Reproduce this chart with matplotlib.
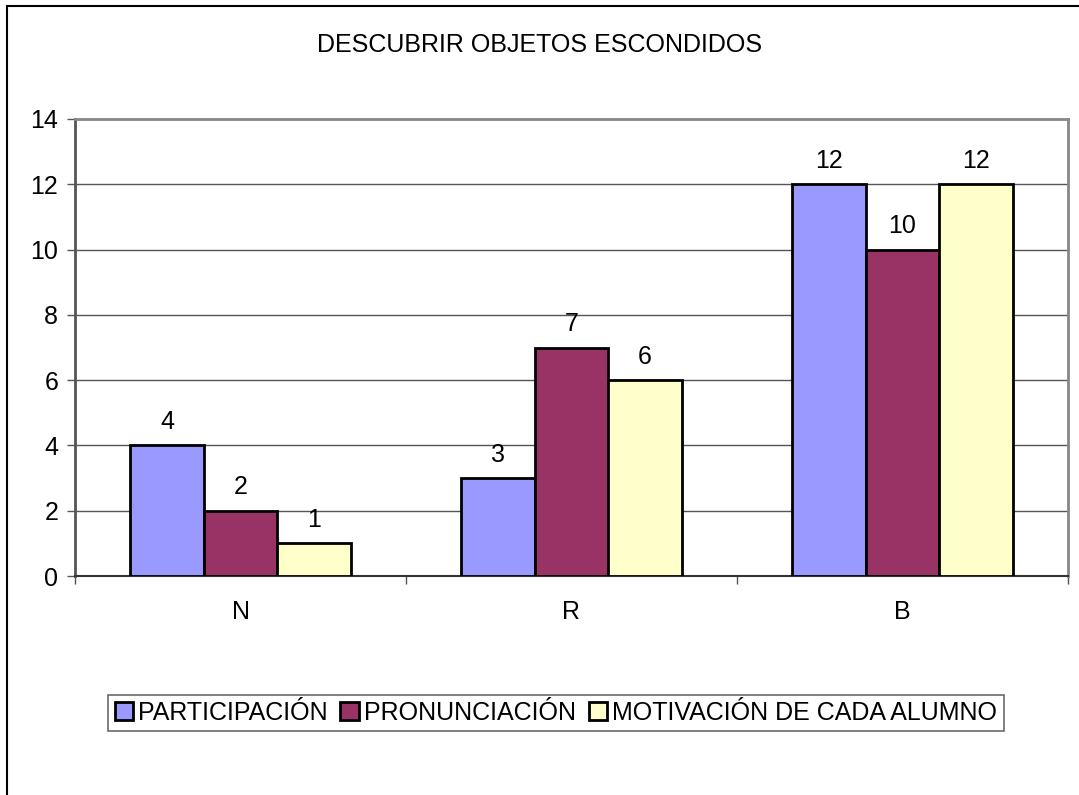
import matplotlib
matplotlib.use('Agg')
import matplotlib.pyplot as plt
import numpy as np
from matplotlib.patches import Rectangle

plt.rcParams['font.family'] = ['Liberation Sans', 'DejaVu Sans']

categories = ['N', 'R', 'B']
series_names = ['PARTICIPACIÓN', 'PRONUNCIACIÓN', 'MOTIVACIÓN DE CADA ALUMNO']
participacion = [4, 3, 12]
pronunciacion = [2, 7, 10]
motivacion = [1, 6, 12]
colors = ['#9999ff', '#993366', '#ffffcc']

W, H = 1079, 795
FS = 18
fig = plt.figure(figsize=(W / 100.0, H / 100.0), dpi=100)
fig.patch.set_facecolor('white')

# outer chart frame (only left and top visible, rest cut off)
fig.add_artist(Rectangle((7.0 / W, -0.1), 1.2, 1 - 5.5 / H + 0.1,
                         transform=fig.transFigure, fill=False,
                         edgecolor='black', linewidth=1.5))

left, right, top, bottom = 75, 1068, 119, 576
ax = fig.add_axes([left / W, 1 - bottom / H, (right - left) / W, (bottom - top) / H])

x = np.arange(len(categories))
bw = 0.222
for i, (vals, name, c) in enumerate(zip([participacion, pronunciacion, motivacion],
                                        series_names, colors)):
    pos = x + (i - 1) * bw
    ax.bar(pos, vals, bw, color=c, edgecolor='black', linewidth=2,
           label=name, zorder=3)
    for xp, v in zip(pos, vals):
        ax.text(xp, v + 0.35, str(v), ha='center', va='bottom', fontsize=FS)

ax.set_xlim(-0.5, 2.5)
ax.set_ylim(0, 14)
ax.set_yticks(range(0, 15, 2))
ax.yaxis.grid(True, color='#555555', linewidth=1, zorder=0)
ax.set_xticks(x)
ax.set_xticklabels(categories)
ax.set_xticks([-0.5, 0.5, 1.5, 2.5], minor=True)
ax.tick_params(axis='x', which='major', length=0, pad=17, labelsize=FS)
ax.tick_params(axis='x', which='minor', length=6, width=1, color='#555555')
ax.tick_params(axis='y', length=6, width=1, color='#555555', labelsize=FS, pad=6)
for s in ['top', 'right']:
    ax.spines[s].set_color('#888888')
    ax.spines[s].set_linewidth(2)
ax.spines['left'].set_color('#555555')
ax.spines['left'].set_linewidth(2)
ax.spines['bottom'].set_color('#333333')
ax.spines['bottom'].set_linewidth(1.5)

fig.text(0.5, 1 - 45.0 / H, 'DESCUBRIR OBJETOS ESCONDIDOS', ha='center', va='center',
         fontsize=FS)

leg = fig.legend(loc='center', bbox_to_anchor=(556.0 / W, 1 - 713.0 / H), ncol=3,
                 fontsize=FS, frameon=True, fancybox=False, handlelength=0.75,
                 handleheight=0.75, handletextpad=0.2, columnspacing=0.5,
                 borderpad=0.25, edgecolor='#444444')
leg.get_frame().set_linewidth(1.2)

fig.savefig('out.png', dpi=100)
